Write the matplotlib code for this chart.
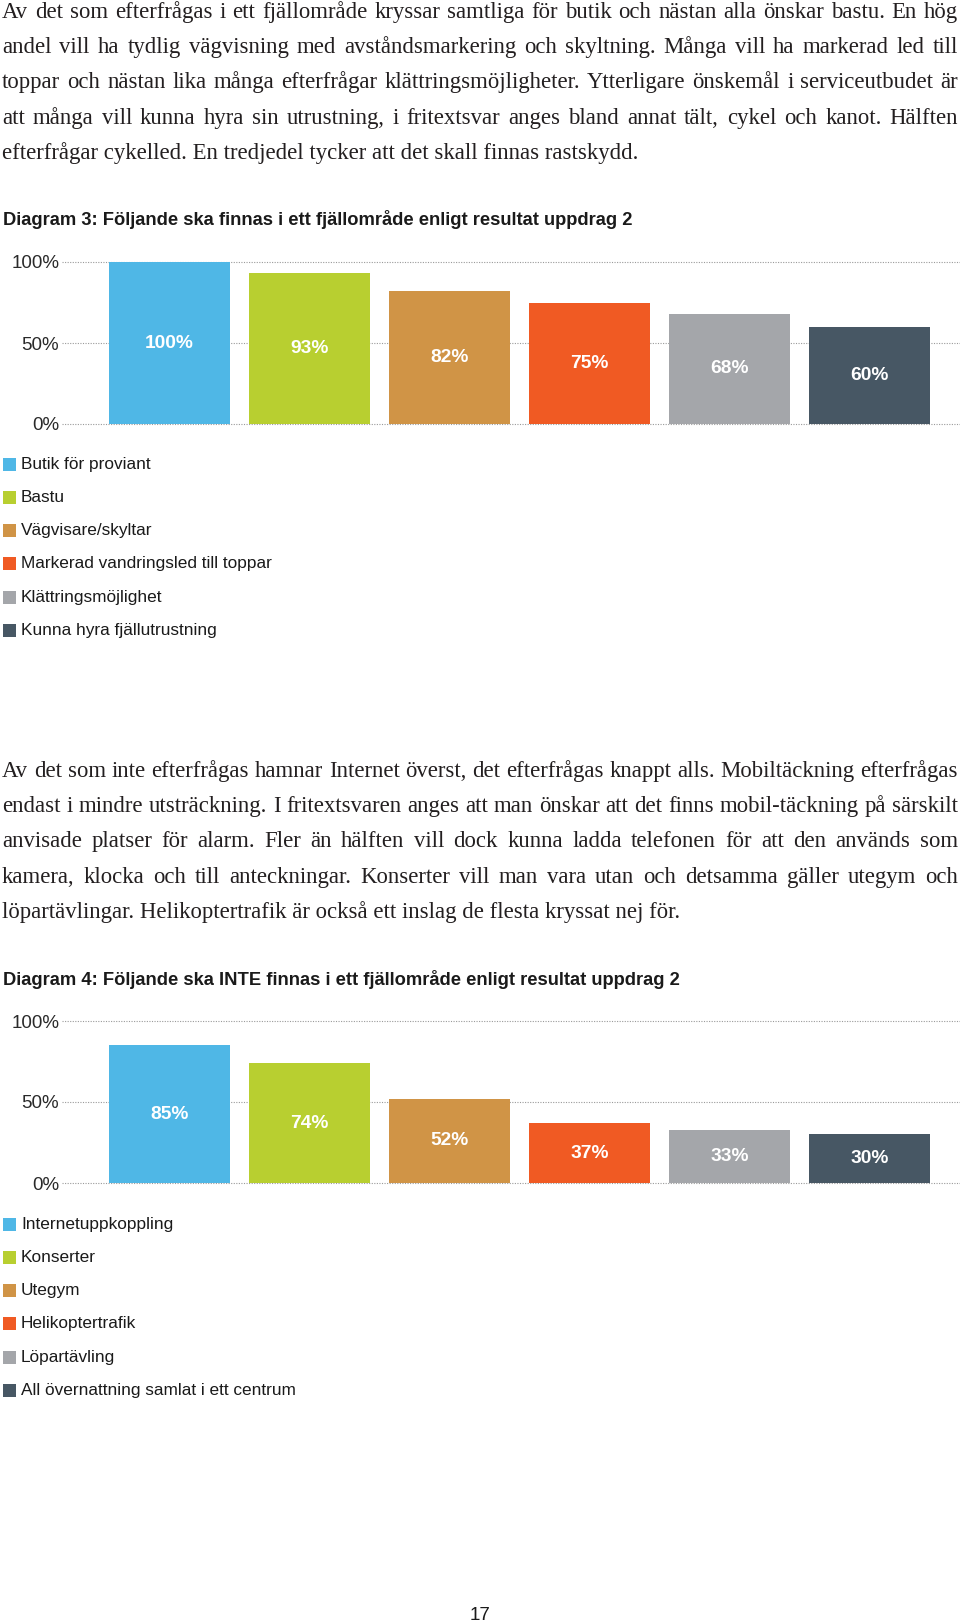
import matplotlib
matplotlib.use('Agg')
import matplotlib.pyplot as plt
from matplotlib.patches import Rectangle

W, H, DPI = 960, 1621, 100

# brödtext, radbrytning som i originalet
stycke1 = [
    "Av det som efterfrågas i ett fjällområde kryssar samtliga för butik och nästan alla önskar bastu. En hög",
    "andel vill ha tydlig vägvisning med avståndsmarkering och skyltning. Många vill ha markerad led till",
    "toppar och nästan lika många efterfrågar klättringsmöjligheter. Ytterligare önskemål i serviceutbudet är",
    "att många vill kunna hyra sin utrustning, i fritextsvar anges bland annat tält, cykel och kanot. Hälften",
    "efterfrågar cykelled. En tredjedel tycker att det skall finnas rastskydd.",
]
stycke2 = [
    "Av det som inte efterfrågas hamnar Internet överst, det efterfrågas knappt alls. Mobiltäckning efterfrågas",
    "endast i mindre utsträckning. I fritextsvaren anges att man önskar att det finns mobil-täckning på särskilt",
    "anvisade platser för alarm. Fler än hälften vill dock kunna ladda telefonen för att den används som",
    "kamera, klocka och till anteckningar. Konserter vill man vara utan och detsamma gäller utegym och",
    "löpartävlingar. Helikoptertrafik är också ett inslag de flesta kryssat nej för.",
]

titel3 = "Diagram 3: Följande ska finnas i ett fjällområde enligt resultat uppdrag 2"
kat3 = ["Butik för proviant", "Bastu", "Vägvisare/skyltar",
        "Markerad vandringsled till toppar", "Klättringsmöjlighet",
        "Kunna hyra fjällutrustning"]
varden3 = [100, 93, 82, 75, 68, 60]

titel4 = "Diagram 4: Följande ska INTE finnas i ett fjällområde enligt resultat uppdrag 2"
kat4 = ["Internetuppkoppling", "Konserter", "Utegym", "Helikoptertrafik",
        "Löpartävling", "All övernattning samlat i ett centrum"]
varden4 = [85, 74, 52, 37, 33, 30]

farger = ['#4FB7E6', '#B8CF30', '#D09446', '#F05A23', '#A4A6AA', '#475764']
yticks = [0, 50, 100]
ytick_text = ['0%', '50%', '100%']
sidnummer = "17"

SERIF = 'Liberation Serif'
SANS = 'Liberation Sans'
BRODSTORLEK = 16.4

fig = plt.figure(figsize=(W / DPI, H / DPI), dpi=DPI)
fig.patch.set_facecolor('white')
renderer = fig.canvas.get_renderer()


def fx(px):
    return px / W


def fy(py):
    return 1 - py / H


def stycke(rader, y0, steg=35.2, x0=2, x1=958):
    # marginaljusterad text, ord för ord
    for n, rad in enumerate(rader):
        y = fy(y0 + n * steg)
        if n == len(rader) - 1:
            fig.text(fx(x0), y, rad, va='baseline', family=SERIF,
                     fontsize=BRODSTORLEK, color='#231f20')
            continue
        ord_ = rad.split()
        texter = [fig.text(0, y, o, va='baseline', family=SERIF,
                           fontsize=BRODSTORLEK, color='#231f20') for o in ord_]
        bredder = [t.get_window_extent(renderer).width for t in texter]
        mellan = (x1 - x0 - sum(bredder)) / (len(ord_) - 1)
        x = x0
        for t, b in zip(texter, bredder):
            t.set_x(fx(x))
            x += b + mellan


def diagram(titel, titel_y, topp, varden, kategorier, legend_y):
    botten = topp + 162
    fig.text(fx(3), fy(titel_y), titel, va='baseline', family=SANS,
             fontweight='bold', fontsize=13.2, color='#1a1a1a')

    ax = fig.add_axes([fx(62), fy(botten), fx(960) - fx(62), 162 / H])
    x = list(range(len(varden)))
    ax.bar(x, varden, width=0.865, color=farger, zorder=2)
    ax.set_xlim(-0.766, 5.648)
    ax.set_ylim(0, 100)
    for v in yticks:
        ax.axhline(v, color='#9a9a9a', lw=0.8, ls=(0, (1, 1.3)),
                   zorder=1, clip_on=False)
    ax.set_yticks(yticks)
    ax.set_yticklabels(ytick_text, family=SANS, fontsize=13.5, color='#2a2a2a')
    ax.tick_params(axis='y', length=0, pad=2)
    ax.set_xticks([])
    for s in ax.spines.values():
        s.set_visible(False)
    ax.patch.set_alpha(0)

    for i, v in enumerate(varden):
        ax.text(i, v / 2, f'{v}%', ha='center', va='center', color='white',
                family=SANS, fontweight='bold', fontsize=13.8, zorder=3)

    # förklaring
    for n, (k, c) in enumerate(zip(kategorier, farger)):
        yc = legend_y + n * 33.3
        fig.patches.append(Rectangle((fx(3), fy(yc + 6.5)), 13 / W, 13 / H,
                                     transform=fig.transFigure,
                                     facecolor=c, edgecolor='none'))
        fig.text(fx(21), fy(yc), k, va='center', family=SANS,
                 fontsize=12.4, color='#1a1a1a')


stycke(stycke1, 18)
diagram(titel3, 225, 262, varden3, kat3, 464)
stycke(stycke2, 777)
diagram(titel4, 985, 1021, varden4, kat4, 1224)

fig.text(0.5, fy(1615), sidnummer, ha='center', va='center', family=SANS,
         fontsize=13.5, color='#1a1a1a')

fig.savefig('out.png', dpi=DPI)
